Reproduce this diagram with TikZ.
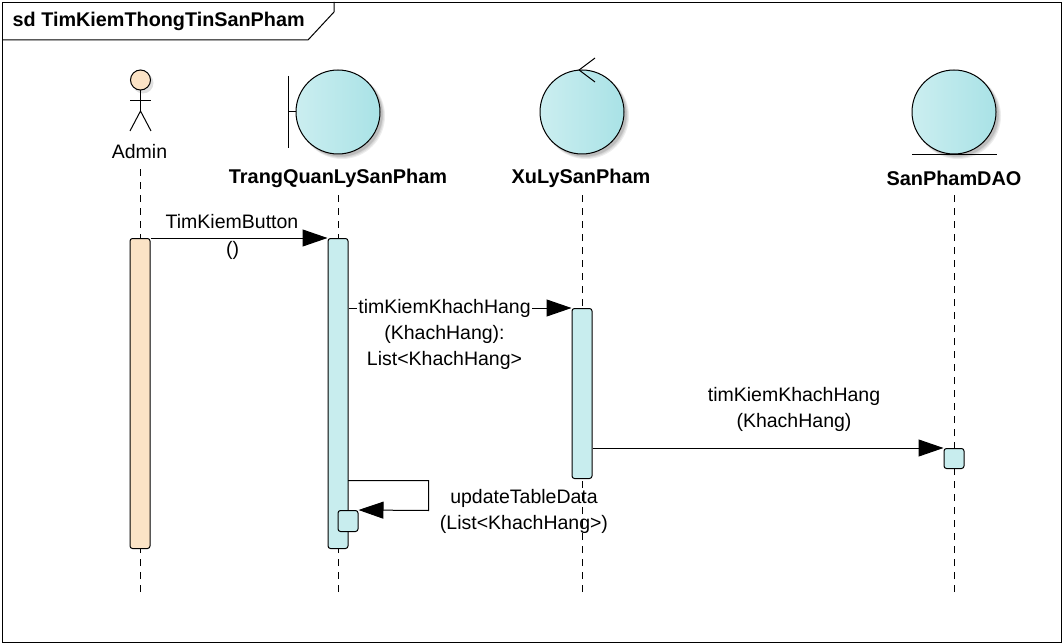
\documentclass[tikz,border=0pt]{standalone}
\usepackage{fontspec}
\setmainfont{Liberation Sans}
\usetikzlibrary{arrows.meta}
\definecolor{classL}{HTML}{CBEEF0}
\definecolor{classR}{HTML}{A9E2E6}
\definecolor{barB}{HTML}{C8EDEE}
\definecolor{barO}{HTML}{FBE3C6}
\tikzset{
  x=1pt,y=-1pt,
  frameline/.style={draw=black,line width=1pt},
  lbl/.style={font=\fontsize{19.5}{26}\selectfont,inner sep=0pt,align=center,text=black},
  msglbl/.style={lbl,fill=white,inner xsep=1pt,inner ysep=0pt},
  namelbl/.style={font=\fontsize{19.9}{26}\selectfont\bfseries,inner sep=0pt,text=black},
  life/.style={draw=black,line width=0.8pt,dash pattern=on 7pt off 6pt},
  barblue/.style={draw=black,line width=1pt,fill=barB,rounded corners=2.5pt,minimum width=20pt,inner sep=0pt,anchor=north},
  barorange/.style={barblue,fill=barO},
  msg/.style={draw=black,line width=1pt,-{Triangle[length=25pt,width=17pt]}},
  robust/.style={draw=black,line width=1pt,left color=classL,right color=classR,shading angle=90,circle,minimum size=84pt,inner sep=0pt},
  shade1/.style={circle,fill=black,opacity=0.07,minimum size=86pt,inner sep=0pt},
  glyph/.style={draw=black,line width=1pt},
}
\begin{document}
\begin{tikzpicture}
\useasboundingbox (0,0) rectangle (1064,644);
\fill[white] (0,0) rectangle (1064,644);
\node[draw=black,line width=1pt,minimum width=1059pt,minimum height=640pt,inner sep=0pt,anchor=north west] (frame) at (2,2) {};
\coordinate (tabA) at (334,2);
\coordinate (tabB) at (334,12);
\coordinate (tabC) at (308,40);
\coordinate (tabD) at (2,40);
\draw[frameline] (tabA) -- (tabB) -- (tabC) -- (tabD);
\node[font=\fontsize{19.8}{22}\selectfont\bfseries,inner sep=0pt,anchor=west] (title) at (12.5,21) {sd TimKiemThongTinSanPham};

% robustness icons with soft shadows
\foreach \cx/\nm in {338/trang,582/xuly,954/dao}{
  \foreach \o/\s in {4/86,3.5/85,3/84,2.5/84}{
    \node[shade1,minimum size=\s pt] at (\cx+\o,112+\o) {};
  }
}
\node[robust] (trang) at (338,112) {};
\node[robust] (xuly) at (582,112) {};
\node[robust] (dao) at (954,112) {};

% boundary mark
\coordinate (bTop) at (288.5,76);
\coordinate (bBot) at (288.5,148);
\coordinate (bMid) at (288.5,112);
\draw[glyph] (bTop) -- (bBot);
\draw[glyph] (bMid) -- (trang.west);
% control mark
\coordinate (cTip) at (579,70);
\coordinate (cUp) at (595,58);
\coordinate (cDn) at (595,82);
\draw[glyph] (cUp) -- (cTip) -- (cDn);
% entity mark
\coordinate (eL) at (912,154.5);
\coordinate (eR) at (997,154.5);
\draw[glyph] (eL) -- (eR);

% actor
\node[circle,fill=black,opacity=0.12,minimum size=21pt,inner sep=0pt] at (143,83) {};
\node[circle,draw=black,line width=1pt,fill=barO,minimum size=20pt,inner sep=0pt] (head) at (140.5,80) {};
\coordinate (hip) at (140.5,111);
\coordinate (armL) at (130,100.5);
\coordinate (armR) at (151,100.5);
\coordinate (legL) at (130,131);
\coordinate (legR) at (151,131);
\draw[glyph] (head.south) -- (hip);
\draw[glyph] (armL) -- (armR);
\draw[glyph] (legL) -- (hip) -- (legR);

% names
\node[lbl] (admin) at (139.5,152) {Admin};
\node[namelbl] (trangName) at (338,178) {TrangQuanLySanPham};
\node[namelbl] (xulyName) at (581,178) {XuLySanPham};
\node[namelbl] (daoName) at (954,178) {SanPhamDAO};

% lifelines
\coordinate (adminEnd) at (140.5,592);
\coordinate (trangEnd) at (338.5,592);
\coordinate (xulyEnd) at (582.5,592);
\coordinate (daoEnd) at (954.5,592);
\coordinate (adminTop) at (140.5,166);
\coordinate (trangTop) at (338.5,189);
\coordinate (xulyTop) at (582.5,189);
\coordinate (daoTop) at (954.5,189);
\draw[life] (adminEnd) -- (adminTop);
\draw[life] (trangEnd) -- (trangTop);
\draw[life] (xulyEnd) -- (xulyTop);
\draw[life] (daoEnd) -- (daoTop);

% activations
\node[barorange,minimum height=310pt] (barAdmin) at (140,238) {};
\node[barblue,minimum height=310pt] (barTrang) at (338,238) {};
\node[barblue,minimum height=170pt] (barXuly) at (582,308) {};
\node[barblue,minimum height=20pt] (barDao) at (954,448) {};
\node[barblue,minimum height=21pt] (barSelf) at (348,510) {};

% messages
\draw[msg] (barAdmin.north east) -- (barTrang.north west);
\node[lbl] (m1a) at (232,222) {TimKiemButton};
\node[msglbl] (m1b) at (232.5,250) {()};

\draw[msg] (barTrang.east |- barXuly.north) -- (barXuly.north west);
\node[msglbl,anchor=north] (m2) at (444.5,299) {timKiemKhachHang\\(KhachHang):\\List<KhachHang>};

\draw[msg] (barXuly.east |- barDao.north) -- (barDao.north west);
\node[lbl] (m3) at (794,409) {timKiemKhachHang\\(KhachHang)};

\coordinate (selfStart) at (348,480.5);
\coordinate (selfC1) at (428.5,480.5);
\coordinate (selfC2) at (428.5,510.5);
\draw[msg] (selfStart) -- (selfC1) -- (selfC2) -- (barSelf.north east);
\node[lbl] (m4) at (524,511) {updateTableData\\(List<KhachHang>)};
\end{tikzpicture}
\end{document}
